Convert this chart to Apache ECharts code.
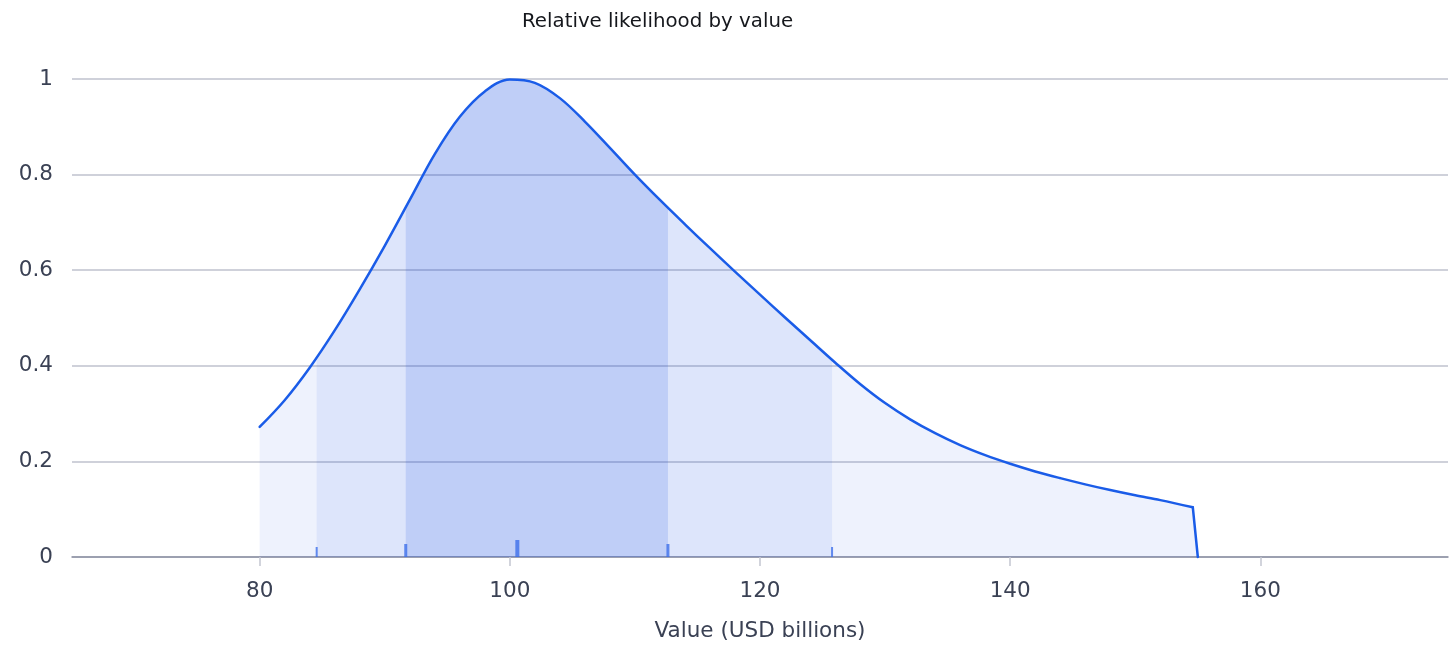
<!DOCTYPE html>
<html>
<head>
<meta charset="utf-8">
<script src="https://cdn.jsdelivr.net/npm/echarts@6/dist/echarts.min.js"></script>
<style>
html,body{margin:0;padding:0;background:#fff;}
#chart{width:1456px;height:657px;}
</style>
</head>
<body>
<div id="chart"></div>
<script>
// Curve: value (USD billions) and relative likelihood
var curveX = [80, 82, 84, 86, 88, 90, 92, 94, 96, 98, 100, 102, 104, 106, 108, 110, 112, 114, 116, 118, 120, 122, 124, 126, 128, 130, 132, 134, 136, 138, 140, 142, 144, 146, 148, 150, 152, 154.6];
var curveY = [0.272, 0.328, 0.396, 0.474, 0.560, 0.651, 0.747, 0.843, 0.921, 0.974, 0.999, 0.992, 0.960, 0.911, 0.856, 0.800, 0.747, 0.696, 0.646, 0.597, 0.549, 0.501, 0.454, 0.407, 0.362, 0.322, 0.288, 0.259, 0.234, 0.213, 0.195, 0.179, 0.165, 0.152, 0.140, 0.129, 0.119, 0.104];
// Sharp cut-off at the right end
var cutoffX = [154.6, 155];
var cutoffY = [0.104, 0];
// Shaded intervals (low, high) and curve height at their edges
var outerBand = [80, 155];
var middleBand = [84.56, 125.76];
var middleBandY = [0.418, 0.413];
var innerBand = [91.68, 112.64];
var innerBandY = [0.732, 0.731];
// Markers along the baseline
var markerX = [84.56, 91.68, 100.6, 112.64, 125.76];
var xTicks = [80, 100, 120, 140, 160];
var yTicks = [0, 0.2, 0.4, 0.6, 0.8, 1];

var chart = echarts.init(document.getElementById('chart'), null, {renderer: 'canvas'});

function zip(xs, ys) {
  var out = [];
  for (var i = 0; i < xs.length; i++) out.push([xs[i], ys[i]]);
  return out;
}
function bandPts(b, edgeY) {
  var inner = zip(curveX, curveY).filter(function (p) { return p[0] > b[0] + 0.3 && p[0] < b[1] - 0.3; });
  return [[b[0], edgeY[0]]].concat(inner, [[b[1], edgeY[1]]]);
}
// marker style by rank (outer, middle, median)
var markerStyle = [
  {w: 2, h: 10},
  {w: 3, h: 13},
  {w: 4, h: 17},
  {w: 3, h: 13},
  {w: 2, h: 10}
];

var FONT = '"DejaVu Sans", Inter, sans-serif';
var BASE = '20,71,226';
var SMOOTH = 0.35;

function areaSeries(data, alpha, smooth) {
  return {
    type: 'line',
    data: data,
    smooth: smooth ? SMOOTH : false,
    symbol: 'none',
    lineStyle: {width: 0, opacity: 0},
    areaStyle: {color: 'rgba(' + BASE + ',' + alpha + ')', opacity: 1, origin: 'start'},
    silent: true,
    clip: false,
    z: 2
  };
}

var option = {
  backgroundColor: '#ffffff',
  animation: false,
  title: {
    text: 'Relative likelihood by value',
    left: 517,
    top: 7,
    textStyle: {fontFamily: FONT, fontSize: 19.8, fontWeight: 'normal', color: '#15171c'}
  },
  grid: {left: 72, right: 8, top: 79, bottom: 100},
  xAxis: {
    type: 'value',
    min: 65,
    max: 175,
    interval: 20,
    name: 'Value (USD billions)',
    nameLocation: 'middle',
    nameGap: 63,
    nameTextStyle: {fontFamily: FONT, fontSize: 21.5, color: '#3a4154'},
    axisLine: {show: true, onZero: false, lineStyle: {color: '#8c90a2', width: 1.5}},
    axisTick: {show: true, length: 9, lineStyle: {color: '#c3c6d1', width: 1.5},
      customValues: xTicks},
    axisLabel: {fontFamily: FONT, fontSize: 21.5, color: '#3a4154', margin: 23,
      customValues: xTicks},
    splitLine: {show: false}
  },
  yAxis: {
    type: 'value',
    min: 0,
    max: 1,
    interval: 0.2,
    axisLine: {show: false},
    axisTick: {show: false},
    axisLabel: {fontFamily: FONT, fontSize: 21.5, color: '#3a4154', margin: 19,
      formatter: function (v) { return String(Math.round(v * 10) / 10); }},
    splitLine: {show: true, lineStyle: {color: '#bfc2ce', width: 1.5}}
  },
  series: [
    areaSeries(zip(curveX, curveY), 0.072, true),
    areaSeries(zip(cutoffX, cutoffY), 0.072, false),
    areaSeries(bandPts(middleBand, middleBandY), 0.079, true),
    areaSeries(bandPts(innerBand, innerBandY), 0.149, true),
    {
      type: 'line',
      data: zip(curveX, curveY),
      smooth: SMOOTH,
      symbol: 'none',
      clip: false,
      lineStyle: {color: '#1a5ce8', width: 2.5, cap: 'round', join: 'round'},
      z: 5
    },
    {
      type: 'line',
      data: zip(cutoffX, cutoffY),
      smooth: false,
      symbol: 'none',
      clip: false,
      lineStyle: {color: '#1a5ce8', width: 2.5, cap: 'round', join: 'round'},
      z: 5
    },
    {
      type: 'scatter',
      data: markerX.map(function (x, i) {
        var s = markerStyle[i];
        return {value: [x, 0], symbolSize: [s.w, s.h], symbolOffset: [0, -s.h / 2]};
      }),
      symbol: 'rect',
      itemStyle: {color: '#3d6fea'},
      silent: true,
      clip: false,
      z: 6
    }
  ]
};
chart.setOption(option);
</script>
</body>
</html>
